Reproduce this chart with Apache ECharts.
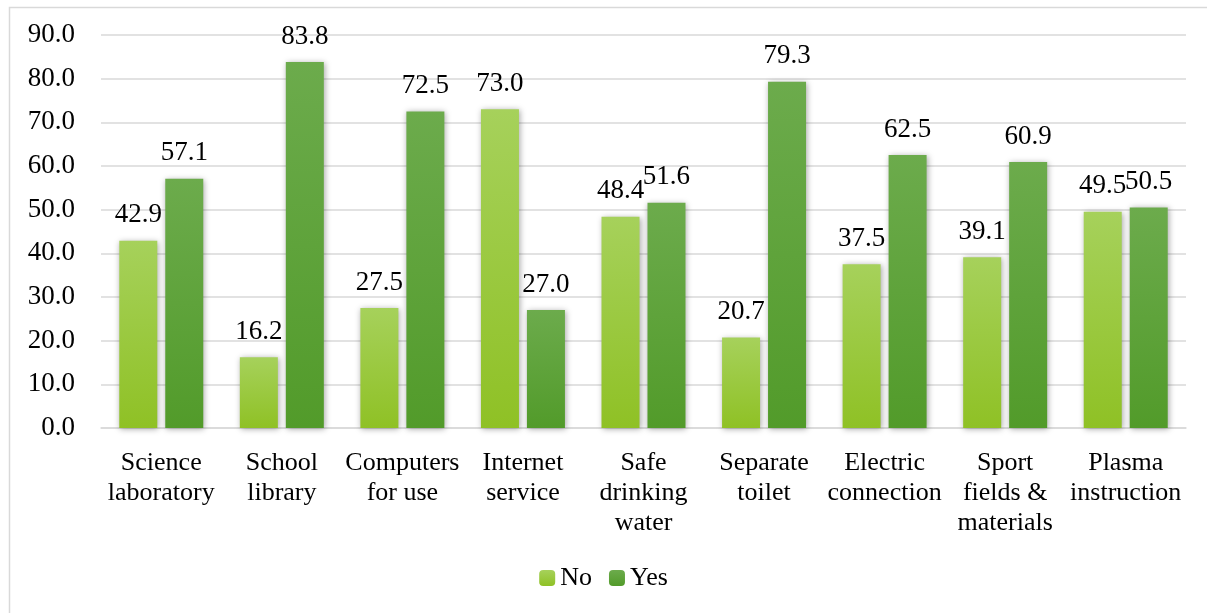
<!DOCTYPE html>
<html>
<head>
<meta charset="utf-8">
<script src="https://cdn.jsdelivr.net/npm/echarts@6/dist/echarts.min.js"></script>
<style>
  html, body { margin: 0; padding: 0; background: #fff; }
  #chart { width: 1207px; height: 613px; }
</style>
</head>
<body>
<div id="chart"></div>
<script>
// Facility categories (line breaks as displayed under the axis)
const categories = [
  'Science\nlaboratory', 'School\nlibrary', 'Computers\nfor use', 'Internet\nservice',
  'Safe\ndrinking\nwater', 'Separate\ntoilet', 'Electric\nconnection',
  'Sport\nfields &\nmaterials', 'Plasma\ninstruction'
];
// Percent of schools without / with each facility
const noValues  = [42.9, 16.2, 27.5, 73.0, 48.4, 20.7, 37.5, 39.1, 49.5];
const yesValues = [57.1, 83.8, 72.5, 27.0, 51.6, 79.3, 62.5, 60.9, 50.5];
const seriesNames = ['No', 'Yes'];

const font = '"Liberation Serif", "Times New Roman", serif';

function grad(top, bottom) {
  return new echarts.graphic.LinearGradient(0, 0, 0, 1, [
    { offset: 0, color: top }, { offset: 1, color: bottom }
  ]);
}

const labelOpt = {
  show: true, position: 'top', distance: 12,
  fontFamily: font, fontSize: 27, color: '#000',
  formatter: p => Number(p.value).toFixed(1)
};
const shadow = { shadowColor: 'rgba(0,0,0,0.35)', shadowBlur: 6, shadowOffsetX: 1, shadowOffsetY: 1 };

const chart = echarts.init(document.getElementById('chart'), null, { renderer: 'canvas' });
chart.setOption({
  animation: false,
  graphic: [{
    type: 'rect', left: 7, top: 5, silent: true,
    shape: { width: 1220, height: 640 },
    style: { fill: 'none', stroke: '#d9d9d9', lineWidth: 1.5 }
  }],
  grid: { left: 101, right: 21, top: 35, bottom: 185 },
  legend: {
    top: 560, left: 'center', itemWidth: 16, itemHeight: 16, itemGap: 17,
    textStyle: { fontFamily: font, fontSize: 26, color: '#000' },
    data: seriesNames
  },
  xAxis: {
    type: 'category', data: categories,
    axisLine: { lineStyle: { color: '#d9d9d9', width: 1.5 } },
    axisTick: { show: false },
    axisLabel: { fontFamily: font, fontSize: 26, color: '#000', lineHeight: 30, margin: 20, interval: 0 }
  },
  yAxis: {
    type: 'value', min: 0, max: 90, interval: 10,
    axisLine: { show: false }, axisTick: { show: false },
    splitLine: { lineStyle: { color: '#d9d9d9', width: 1.5 } },
    axisLabel: { fontFamily: font, fontSize: 27, color: '#000', margin: 26, formatter: v => v.toFixed(1) }
  },
  series: [
    {
      name: seriesNames[0], type: 'bar', data: noValues,
      barWidth: 38, barGap: '21%',
      itemStyle: Object.assign({ color: grad('#a6d15b', '#8fc125') }, shadow),
      label: labelOpt
    },
    {
      name: seriesNames[1], type: 'bar', data: yesValues,
      barWidth: 38,
      itemStyle: Object.assign({ color: grad('#6cab4c', '#529b2a') }, shadow),
      label: labelOpt
    }
  ]
});
</script>
</body>
</html>
